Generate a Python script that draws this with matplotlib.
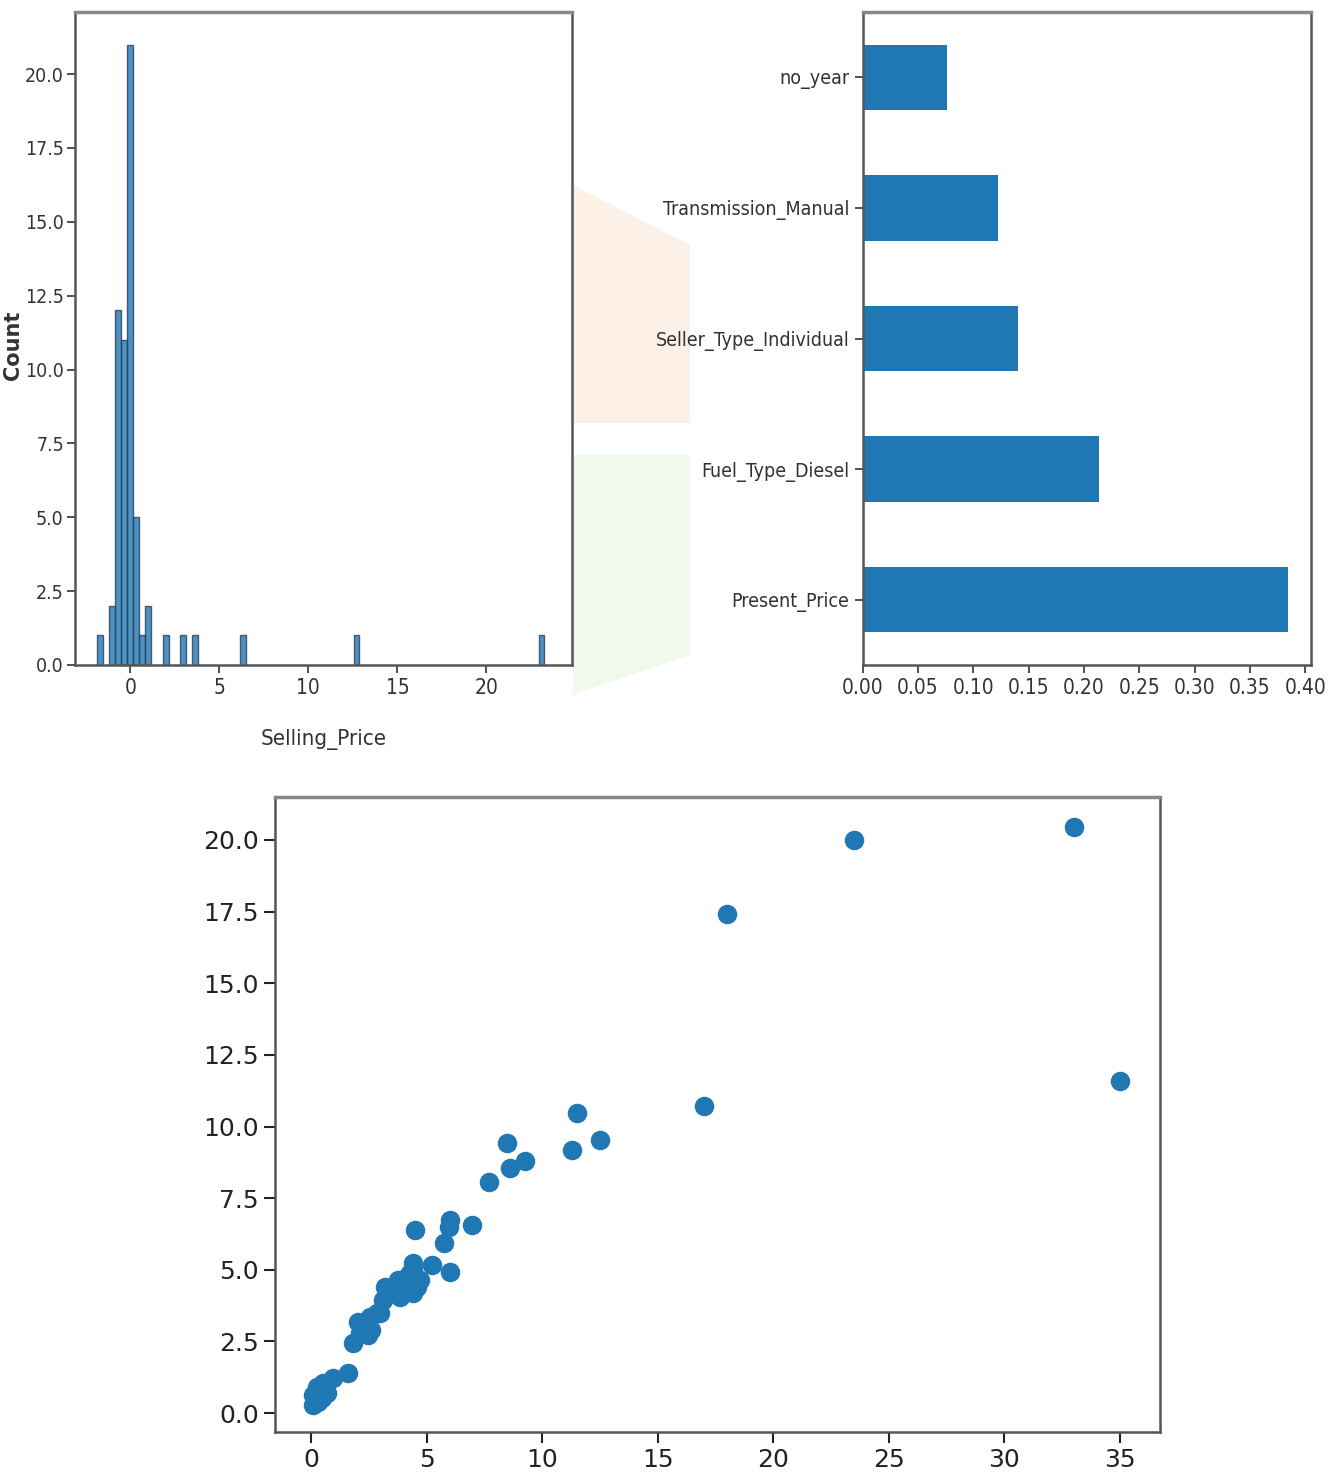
import matplotlib
matplotlib.use("Agg")
import matplotlib.pyplot as plt
from matplotlib.patches import Polygon
import numpy as np

# histogram of Selling_Price (bin index -> count)
hist_bin_start = -1.87
hist_bin_width = 0.335
hist_bins = [0, 2, 3, 4, 5, 6, 7, 8, 11, 14, 16, 24, 43, 74]
hist_counts = [1, 2, 12, 11, 21, 5, 1, 2, 1, 1, 1, 1, 1, 1]

# feature importances (nlargest 5, bottom to top)
feat_names = ["Present_Price", "Fuel_Type_Diesel", "Seller_Type_Individual",
              "Transmission_Manual", "no_year"]
feat_values = [0.3845, 0.2137, 0.1404, 0.1223, 0.0762]

# y_test vs predictions
scatter_x = [33.0, 23.5, 18.0, 35.0, 17.0, 11.5, 12.5, 11.28, 8.5, 8.6, 9.26, 7.7,
             4.5, 6.0, 5.95, 6.96, 5.76, 6.0, 5.22, 4.43, 4.72, 4.14, 3.78, 3.42,
             3.2, 3.85, 4.43, 4.57, 3.13, 2.84, 2.55, 2.05, 2.41, 2.12, 1.83, 2.47,
             1.62, 0.97, 0.53, 0.25, 0.1, 0.32, 0.1, 0.68, 0.46, 4.0, 4.3, 4.4,
             0.2, 0.3, 0.6, 0.15, 2.6, 3.0]
scatter_y = [20.45, 20.0, 17.4, 11.6, 10.7, 10.46, 9.53, 9.18, 9.43, 8.54, 8.8, 8.07,
             6.39, 6.74, 6.5, 6.56, 5.94, 4.93, 5.17, 5.23, 4.64, 4.76, 4.64, 4.35,
             4.41, 4.06, 4.18, 4.41, 3.94, 3.48, 3.36, 3.19, 3.01, 2.78, 2.43, 2.72,
             1.39, 1.21, 1.04, 0.92, 0.63, 0.39, 0.28, 0.69, 0.51, 4.5, 4.9, 5.0,
             0.5, 0.7, 0.8, 0.45, 2.9, 3.5]

W, H = 1333, 1479
fig = plt.figure(figsize=(W / 100, H / 100), dpi=100)


def box(l, t, r, b):
    return [l / W, 1 - b / H, (r - l) / W, (b - t) / H]


# faint watermark behind the panels
fig.patches.append(Polygon([(573 / W, 1 - 185 / H), (690 / W, 1 - 245 / H),
                            (690 / W, 1 - 423 / H), (573 / W, 1 - 423 / H)],
                           closed=True, transform=fig.transFigure,
                           facecolor="#fdf0e6", edgecolor="none", zorder=-5))
fig.patches.append(Polygon([(573 / W, 1 - 455 / H), (690 / W, 1 - 455 / H),
                            (690 / W, 1 - 655 / H), (573 / W, 1 - 695 / H)],
                           closed=True, transform=fig.transFigure,
                           facecolor="#f1f9ec", edgecolor="none", zorder=-5))

num_font = dict(fontsize=15, fontstretch="condensed")
name_font = dict(fontsize=14, fontstretch="condensed")
spine_col = "#555555"

# --- histogram ---
ax1 = fig.add_axes(box(75, 12, 572, 665))
edges = [hist_bin_start + i * hist_bin_width for i in hist_bins]
ax1.bar(edges, hist_counts, width=hist_bin_width, align="edge",
        color="#1f77b4", alpha=0.8, edgecolor="#2a3f55", linewidth=1.0)
ax1.set_xlim(-3.1, 24.8)
ax1.set_ylim(0, 22.1)
ax1.set_xticks([0, 5, 10, 15, 20])
ax1.set_yticks(np.arange(0, 20.1, 2.5))
ax1.set_yticklabels([f"{v:.1f}" for v in np.arange(0, 20.1, 2.5)],
                    fontsize=14, fontstretch="condensed")
ax1.set_xticklabels(["0", "5", "10", "15", "20"], **num_font)
ax1.set_ylabel("Count", fontsize=15, fontweight="semibold", color="#333333")
ax1.yaxis.set_label_coords(-0.104, 0.49)
ax1.set_xlabel("Selling_Price", fontsize=16, fontstretch="condensed",
               color="#333333", labelpad=22)

# --- feature importances ---
ax2 = fig.add_axes(box(862.7, 12, 1311, 665))
ax2.barh(range(len(feat_names)), feat_values, height=0.5, color="#1f77b4")
ax2.set_ylim(-0.5, len(feat_names) - 0.5)
ax2.set_xlim(0, 0.4053)
ax2.set_yticks(range(len(feat_names)))
ax2.set_yticklabels(feat_names, **name_font)
xt = np.arange(0, 0.401, 0.05)
ax2.set_xticks(xt)
ax2.set_xticklabels([f"{v:.2f}" for v in xt], **num_font)

# --- scatter ---
ax3 = fig.add_axes(box(275, 797, 1160, 1432))
ax3.scatter(scatter_x, scatter_y, s=170, color="#1f77b4")
ax3.set_xlim(-1.56, 36.74)
ax3.set_ylim(-0.66, 21.5)
ax3.set_xticks(range(0, 36, 5))
ax3.set_yticks(np.arange(0, 20.1, 2.5))
ax3.set_yticklabels([f"{v:.1f}" for v in np.arange(0, 20.1, 2.5)])
ax3.tick_params(labelsize=18, length=8, width=1.5, colors="#222222")

for ax in (ax1, ax2):
    ax.tick_params(length=6, width=1.2, colors="#333333")
ax1.tick_params(axis="y", pad=2)
for ax in (ax1, ax2, ax3):
    for sp in ax.spines.values():
        sp.set_color(spine_col)
        sp.set_linewidth(1.8)
    ax.spines["top"].set_color("#888888")
    ax.spines["top"].set_linewidth(2.5)

fig.savefig("out.png", dpi=100)
